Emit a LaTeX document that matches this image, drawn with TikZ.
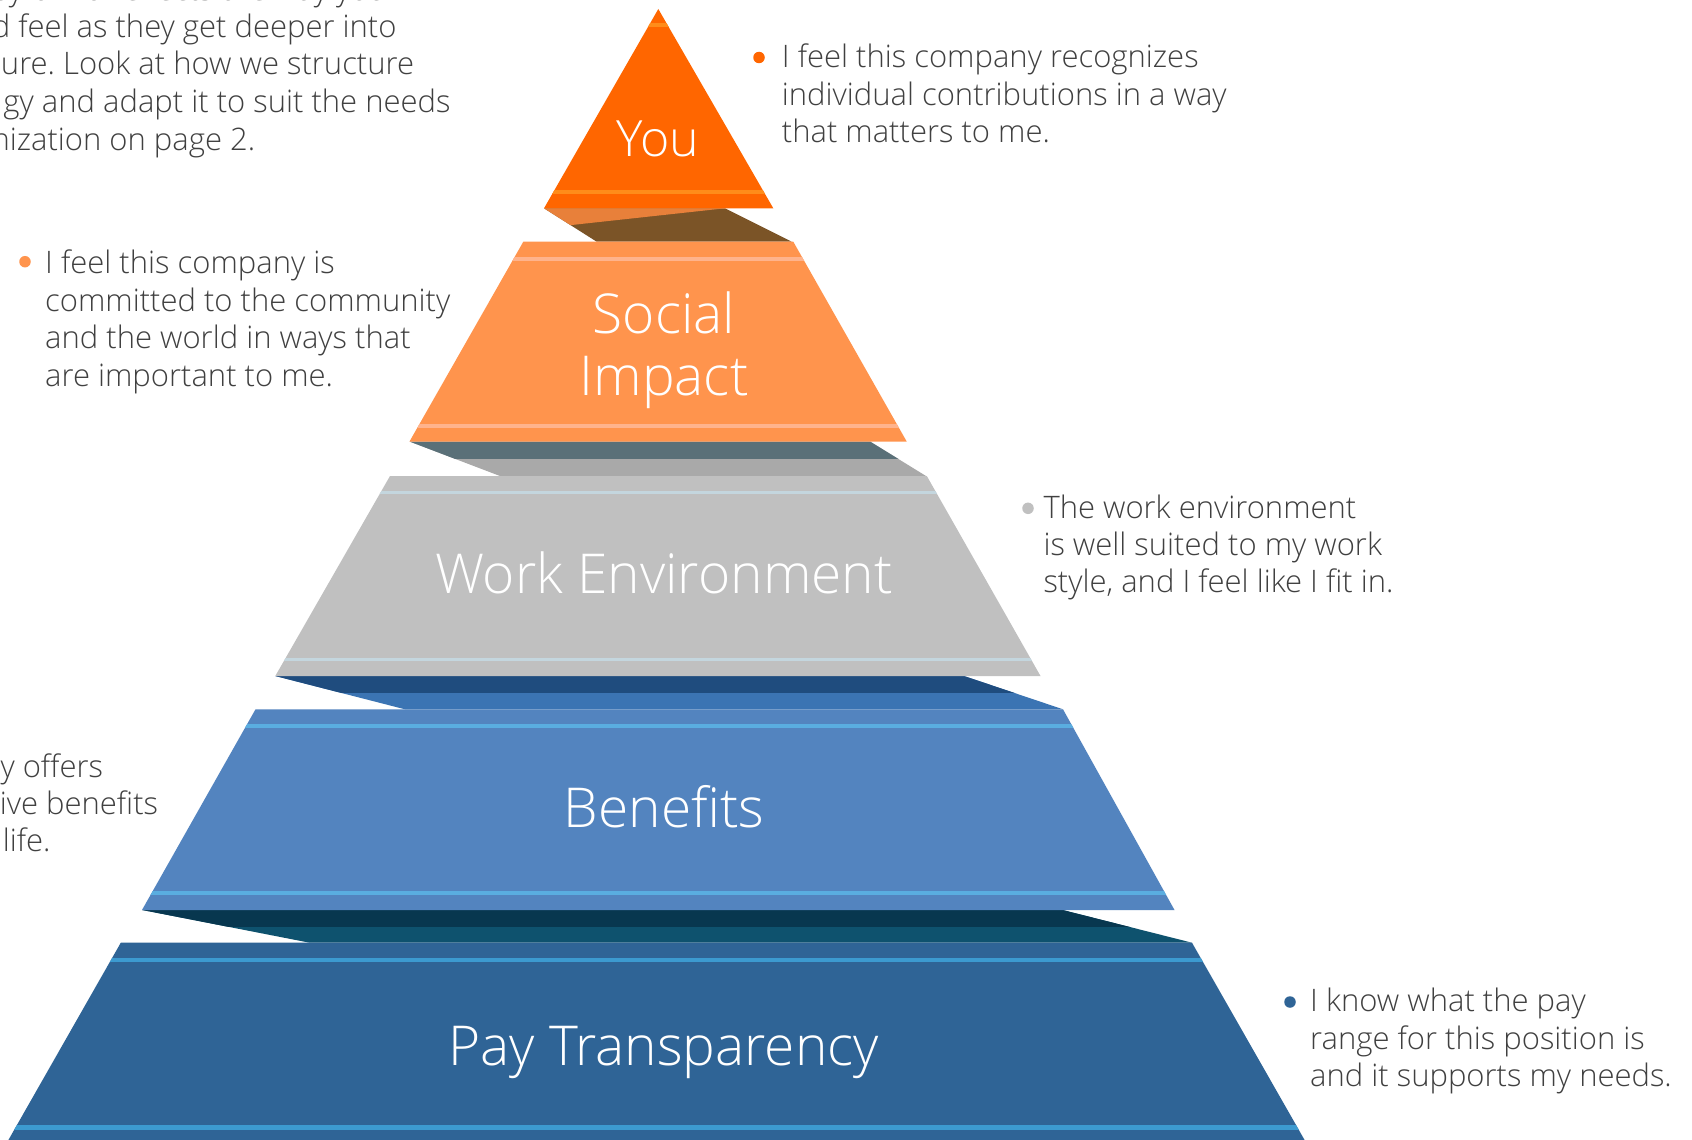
\documentclass[tikz,border=0pt]{standalone}
\usepackage{fontspec}
\setmainfont{Open Sans}[UprightFont={* Light}]
\frenchspacing
\definecolor{txt}{HTML}{404040}
\definecolor{youfill}{HTML}{FF6600}
\definecolor{youstripe}{HTML}{FF8C1A}
\definecolor{conAlight}{HTML}{E8803A}
\definecolor{conAdark}{HTML}{7B5427}
\definecolor{socfill}{HTML}{FF944D}
\definecolor{socstripe}{HTML}{FFB38C}
\definecolor{conBdark}{HTML}{5A7078}
\definecolor{conBlight}{HTML}{A9A9A9}
\definecolor{workfill}{HTML}{C0C0C0}
\definecolor{workstripe}{HTML}{C4D6DE}
\definecolor{conCdark}{HTML}{1F4C7E}
\definecolor{conClight}{HTML}{3B74B3}
\definecolor{benfill}{HTML}{5384BF}
\definecolor{benstripe}{HTML}{5AADE0}
\definecolor{conDdark}{HTML}{08374F}
\definecolor{conDlight}{HTML}{0E526E}
\definecolor{payfill}{HTML}{2F6496}
\definecolor{paystripe}{HTML}{3C9AD0}
\begin{document}
\begin{tikzpicture}[x=1pt,y=-1pt,
  desc/.style={inner sep=0pt, anchor=base west, text=txt, font=\fontsize{31}{37}\selectfont},
  descR/.style={desc, anchor=base east},
  tiertitle/.style={inner sep=0pt, anchor=base, text=white, font=\fontsize{55}{64}\selectfont},
  bullet/.style={circle, inner sep=0pt, minimum size=11.5pt}
]
\useasboundingbox (0,0) rectangle (1692,1140);
\fill[white] (0,0) rectangle (1692,1140);
\clip (0,0) rectangle (1692,1140);

% ---------- connectors ----------
\begin{scope}
  \clip (544,208.3) -- (725,208.3) -- (791.7,241.7) -- (596.7,241.7) -- cycle;
  \fill[conAdark] (500,200) rectangle (820,250);
  \fill[conAlight] (540,208.3) -- (725,208.3) -- (571.7,225) -- (540,225) -- cycle;
\end{scope}
\begin{scope}
  \clip (409.5,441.5) -- (870,441.5) -- (926,476) -- (500,476) -- cycle;
  \fill[conBlight] (380,430) rectangle (950,480);
  \fill[conBdark] (380,430) rectangle (950,458.7);
\end{scope}
\begin{scope}
  \clip (275.3,676) -- (964,676) -- (1063,709.3) -- (405,709.3) -- cycle;
  \fill[conClight] (250,670) rectangle (1080,715);
  \fill[conCdark] (250,670) rectangle (1080,692.7);
\end{scope}
\begin{scope}
  \clip (142.4,910) -- (1062.6,910) -- (1192,942.7) -- (309.6,942.7) -- cycle;
  \fill[conDlight] (120,900) rectangle (1210,950);
  \fill[conDdark] (120,900) rectangle (1210,926.7);
\end{scope}

% ---------- tiers ----------
\begin{scope}
  \clip (658.3,9) -- (773.3,208.3) -- (544,208.3) -- cycle;
  \fill[youfill] (530,0) rectangle (790,210);
  \fill[youstripe] (530,22.7) rectangle (790,26.7);
  \fill[youstripe] (530,189.7) rectangle (790,193.7);
\end{scope}
\begin{scope}
  \clip (523.3,241.7) -- (793.3,241.7) -- (906.7,441.5) -- (409.5,441.5) -- cycle;
  \fill[socfill] (400,230) rectangle (920,450);
  \fill[socstripe] (400,257.2) rectangle (920,260.8);
  \fill[socstripe] (400,423.9) rectangle (920,427.5);
\end{scope}
\begin{scope}
  \clip (390,476) -- (926.8,476) -- (1040.5,676) -- (275.3,676) -- cycle;
  \fill[workfill] (260,470) rectangle (1060,680);
  \fill[workstripe] (260,490.5) rectangle (1060,494.1);
  \fill[workstripe] (260,657.5) rectangle (1060,661.1);
\end{scope}
\begin{scope}
  \clip (255.5,709.3) -- (1063,709.3) -- (1174.5,910) -- (142,910) -- cycle;
  \fill[benfill] (130,700) rectangle (1190,915);
  \fill[benstripe] (130,724) rectangle (1190,728);
  \fill[benstripe] (130,891.3) rectangle (1190,895.3);
\end{scope}
\begin{scope}
  \clip (120.8,942.7) -- (1192,942.7) -- (1316,1160) -- (-3,1160) -- cycle;
  \fill[payfill] (-10,930) rectangle (1330,1170);
  \fill[paystripe] (-10,957.8) rectangle (1330,962.2);
  \fill[paystripe] (-10,1125.1) rectangle (1330,1129.5);
\end{scope}

% ---------- tier titles ----------
\node[tiertitle, font=\fontsize{50}{60}\selectfont] (tyou) at (658,156.7) {You};
\node[tiertitle] (tsoc1) at (664,333) {Social};
\node[tiertitle] (tsoc2) at (664,395) {Impact};
\node[tiertitle] (twork) at (663.8,593.3) {Work Environment};
\node[tiertitle] (tben) at (664,827) {Benefits};
\node[tiertitle] (tpay) at (663.5,1065) {Pay Transparency};

% ---------- cut-off paragraph, top left ----------
\node[descR] (p0) at (399,0.3) {pyramid reflects the way your};
\node[descR] (p1) at (396.7,37.3) {d feel as they get deeper into};
\node[descR] (p2) at (414.3,74.9) {ure. Look at how we structure};
\node[descR] (p3) at (450.7,112.5) {gy and adapt it to suit the needs};
\node[descR] (p4) at (255.4,150.1) {nization on page 2.};

% ---------- You description ----------
\node[bullet, fill=youfill] (byou) at (759,57.5) {};
\node[desc] (dyou1) at (781.7,67.3) {I feel this company recognizes};
\node[desc] (dyou2) at (781.7,105.1) {individual contributions in a way};
\node[desc] (dyou3) at (781.7,142.9) {that matters to me.};

% ---------- Social description ----------
\node[bullet, fill=socfill] (bsoc) at (25,261.7) {};
\node[desc] (dsoc1) at (45,273.3) {I feel this company is};
\node[desc] (dsoc2) at (45,311) {committed to the community};
\node[desc] (dsoc3) at (45,348.7) {and the world in ways that};
\node[desc] (dsoc4) at (45,386.4) {are important to me.};

% ---------- Work description ----------
\node[bullet, fill=workfill] (bwork) at (1028,508.3) {};
\node[desc] (dwork1) at (1043.3,518.3) {The work environment};
\node[desc] (dwork2) at (1043.3,555.5) {is well suited to my work};
\node[desc] (dwork3) at (1043.3,592.7) {style, and I feel like I fit in.};

% ---------- Benefits description (cut off) ----------
\node[descR] (dben1) at (103.3,777) {y offers};
\node[descR] (dben2) at (158.3,814.3) {ive benefits};
\node[descR] (dben3) at (50.7,851.7) {life.};

% ---------- Pay description ----------
\node[bullet, fill=payfill] (bpay) at (1290,1002) {};
\node[desc] (dpay1) at (1310,1011.5) {I know what the pay};
\node[desc] (dpay2) at (1310,1049) {range for this position is};
\node[desc] (dpay3) at (1310,1086.5) {and it supports my needs.};
\end{tikzpicture}
\end{document}
